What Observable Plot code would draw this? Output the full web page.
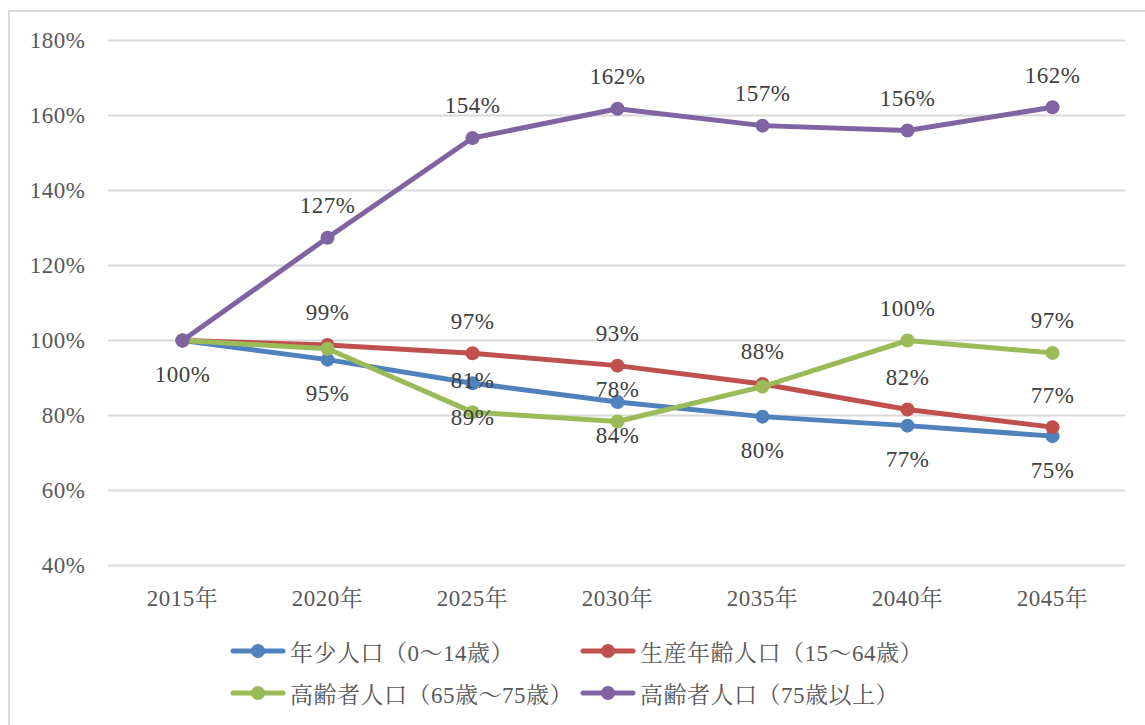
<!DOCTYPE html>
<html><head><meta charset="utf-8">
<script src="https://cdn.jsdelivr.net/npm/d3@7"></script>
<script src="https://cdn.jsdelivr.net/npm/@observablehq/plot@0.6"></script>
<style>
body{margin:0;background:#fff;width:1145px;height:725px;overflow:hidden;position:relative;font-family:'Liberation Serif','Noto Serif CJK JP','Noto Sans CJK JP',serif;}
#frame{position:absolute;left:8px;top:10px;width:1200px;height:800px;border:2px solid #d9d9d9;box-sizing:border-box}
#chart{position:absolute;left:0;top:0}
#legend{position:absolute;left:230px;top:630px;display:grid;grid-template-columns:350px 350px;grid-auto-rows:42px;font-size:23px;letter-spacing:0.5px;color:#595959}
.item{display:flex;align-items:center;white-space:nowrap}
.item svg{margin-right:4px}
#chart svg text{font-family:'Liberation Serif','Noto Serif CJK JP','Noto Sans CJK JP',serif;letter-spacing:0.5px}
</style>
</head><body>
<div id="frame"></div>
<div id="chart"></div>
<div id="legend"></div>
<script>
const years = ["2015年","2020年","2025年","2030年","2035年","2040年","2045年"];
const seriesNames = ["年少人口（0～14歳）","生産年齢人口（15～64歳）","高齢者人口（65歳～75歳）","高齢者人口（75歳以上）"];
const seriesColors = ["#4F81BD","#C0504D","#9BBB59","#8064A2"];
const youth   = [100, 94.9, 88.6, 83.6, 79.7, 77.3, 74.5];
const working = [100, 98.8, 96.6, 93.3, 88.4, 81.6, 76.9];
const elder65 = [100, 97.8, 80.9, 78.4, 87.7, 100.0, 96.7];
const elder75 = [100, 127.4, 154.0, 161.8, 157.3, 156.0, 162.2];
// which data labels are visible in the reference
const youthLabels   = [true, true, true, true, true, true, true];
const workingLabels = [false, true, true, true, true, true, true];
const elder65Labels = [false, false, true, true, false, true, true];
const elder75Labels = [false, true, true, true, true, true, true];
const yTicks = [40, 60, 80, 100, 120, 140, 160, 180];

const allValues = [youth, working, elder65, elder75];
const allLabels = [youthLabels, workingLabels, elder65Labels, elder75Labels];
const labelBelow = [true, false, false, false];

const data = [];
allValues.forEach((vals, s) => vals.forEach((v, i) => data.push({
  year: years[i], value: v, series: seriesNames[s], s, show: allLabels[s][i]
})));

const marks = [
  Plot.ruleY(yTicks, {stroke: "#d9d9d9", strokeWidth: 2}),
  Plot.axisY({ticks: yTicks, tickSize: 0, tickPadding: 23, tickFormat: d => d + "%", fontSize: 23, fill: "#595959", label: null}),
  Plot.axisX({tickSize: 0, tickPadding: 24, fontSize: 23, fill: "#595959", label: null})
];
seriesNames.forEach((name, s) => {
  const d = data.filter(r => r.s === s);
  marks.push(Plot.line(d, {x: "year", y: "value", stroke: seriesColors[s], strokeWidth: 5, strokeLinejoin: "round", strokeLinecap: "round"}));
  marks.push(Plot.dot(d, {x: "year", y: "value", r: 7, fill: seriesColors[s], stroke: null}));
});
seriesNames.forEach((name, s) => {
  const d = data.filter(r => r.s === s && r.show);
  marks.push(Plot.text(d, {x: "year", y: "value", text: r => Math.round(r.value) + "%", dy: labelBelow[s] ? 34 : -32, fill: "#404040", fontSize: 23}));
});

const chart = Plot.plot({
  width: 1145, height: 615,
  marginTop: 40, marginBottom: 50, marginLeft: 108, marginRight: 20,
  x: {type: "point", domain: years, padding: 0.5},
  y: {domain: [40, 180]},
  style: {fontSize: "23px", background: "transparent", color: "#595959"},
  marks
});
document.getElementById("chart").appendChild(chart);

const legend = document.getElementById("legend");
seriesNames.forEach((name, s) => {
  const div = document.createElement("div");
  div.className = "item";
  div.innerHTML = `<svg width="56" height="16"><line x1="3" y1="8" x2="53" y2="8" stroke="${seriesColors[s]}" stroke-width="5" stroke-linecap="round"/><circle cx="28" cy="8" r="7" fill="${seriesColors[s]}"/></svg><span>${name}</span>`;
  legend.appendChild(div);
});
</script>
</body></html>
